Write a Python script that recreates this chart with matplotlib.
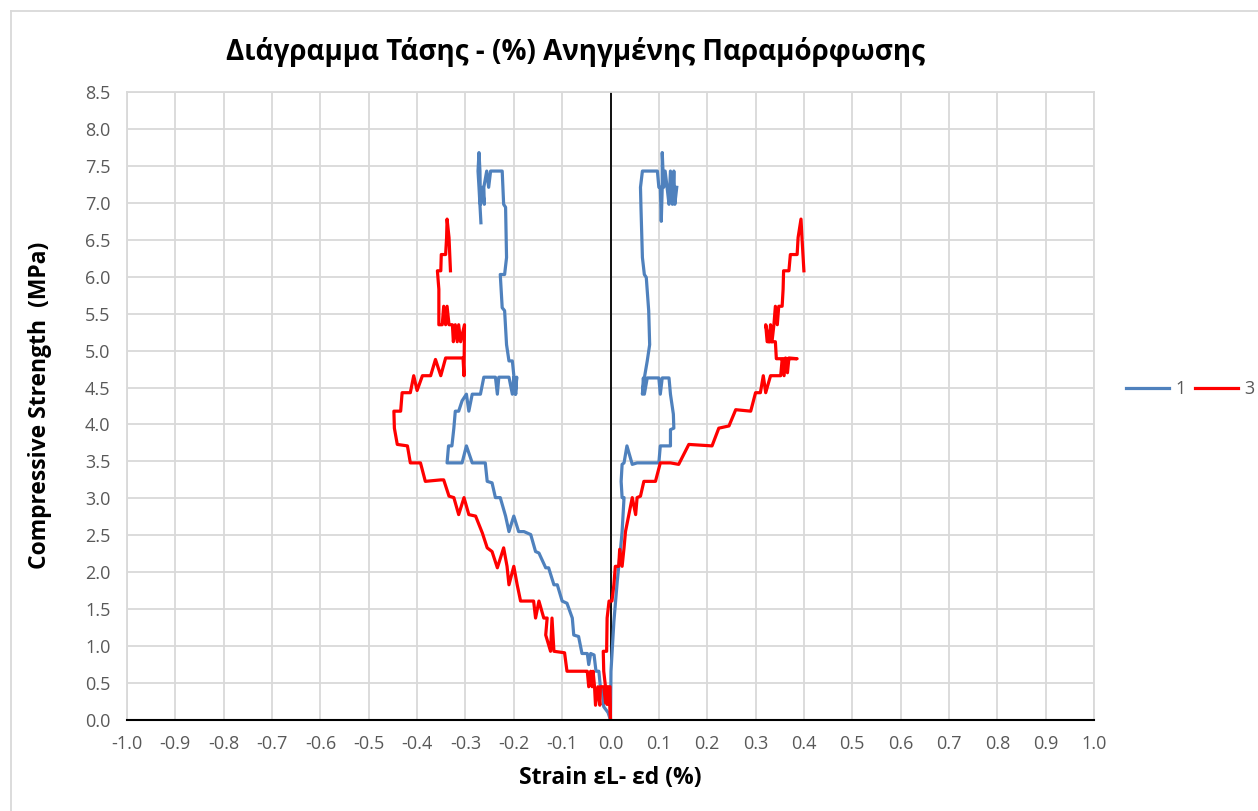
import numpy as np
import matplotlib
matplotlib.use("Agg")
import matplotlib.pyplot as plt
from matplotlib.lines import Line2D

plt.rcParams['font.family'] = ['Open Sans', 'DejaVu Sans']

# ----Specimen 1, lateral (left) and axial (right) strain----
x1_left = [0, -0.005, -0.014, -0.017, -0.021, -0.024, -0.030, -0.034, -0.041, -0.045, -0.048, -0.059,
           -0.066, -0.076, -0.079, -0.090, -0.100, -0.110, -0.117, -0.128, -0.134, -0.148, -0.155, -0.165,
           -0.179, -0.190, -0.200, -0.210, -0.217, -0.228, -0.238, -0.245, -0.255, -0.259, -0.286, -0.298,
           -0.307, -0.338, -0.335, -0.328, -0.324, -0.321, -0.314, -0.307, -0.298, -0.293, -0.286, -0.269,
           -0.262, -0.238, -0.234, -0.231, -0.210, -0.203, -0.200, -0.197, -0.194, -0.196, -0.203, -0.210,
           -0.215, -0.219, -0.224, -0.228, -0.219, -0.215, -0.217, -0.221, -0.224, -0.248, -0.252, -0.256,
           -0.262, -0.261, -0.265, -0.269, -0.270, -0.272, -0.274, -0.272, -0.268]
y1_left = [0, 0.10, 0.18, 0.43, 0.45, 0.66, 0.66, 0.88, 0.90, 0.75, 0.90, 0.90,
           1.13, 1.15, 1.38, 1.58, 1.61, 1.83, 1.83, 2.06, 2.06, 2.26, 2.28, 2.51,
           2.55, 2.55, 2.76, 2.55, 2.76, 3.01, 3.01, 3.21, 3.23, 3.48, 3.48, 3.71,
           3.48, 3.48, 3.71, 3.71, 3.95, 4.18, 4.18, 4.32, 4.41, 4.18, 4.41, 4.41,
           4.64, 4.64, 4.41, 4.64, 4.64, 4.41, 4.64, 4.41, 4.64, 4.41, 4.86, 4.86,
           5.08, 5.54, 5.58, 6.03, 6.03, 6.26, 6.94, 6.98, 7.43, 7.43, 7.21, 7.43,
           7.21, 6.98, 7.21, 6.98, 7.43, 7.68, 7.43, 7.21, 6.73]

x1_right = [0, 0.001, 0.007, 0.014, 0.021, 0.024, 0.028, 0.024, 0.022, 0.024, 0.028, 0.034,
            0.045, 0.055, 0.100, 0.103, 0.124, 0.124, 0.131, 0.130, 0.124, 0.121, 0.107, 0.103,
            0.100, 0.076, 0.070, 0.068, 0.066, 0.070, 0.076, 0.081, 0.079, 0.074, 0.070, 0.066,
            0.063, 0.062, 0.066, 0.097, 0.100, 0.103, 0.105, 0.107, 0.107, 0.110, 0.113, 0.117,
            0.121, 0.124, 0.128, 0.131, 0.133, 0.137]
y1_right = [0, 0.66, 1.33, 1.88, 2.33, 2.55, 3.01, 3.01, 3.23, 3.46, 3.48, 3.71,
            3.46, 3.48, 3.48, 3.71, 3.71, 3.93, 3.95, 4.14, 4.41, 4.63, 4.63, 4.41,
            4.63, 4.63, 4.41, 4.63, 4.41, 4.63, 4.86, 5.08, 5.54, 5.99, 6.03, 6.26,
            6.94, 7.21, 7.43, 7.43, 7.21, 7.21, 6.75, 7.21, 7.68, 7.21, 7.43, 7.21,
            6.98, 7.43, 6.98, 7.43, 6.98, 7.21]

# ----Specimen 3----
x3_left = [0, -0.001, -0.007, -0.010, -0.014, -0.021, -0.022, -0.026, -0.031, -0.033, -0.036, -0.038,
           -0.041, -0.045, -0.048, -0.052, -0.090, -0.095, -0.117, -0.121, -0.124, -0.134, -0.131, -0.138,
           -0.148, -0.155, -0.159, -0.186, -0.193, -0.200, -0.210, -0.214, -0.221, -0.234, -0.245, -0.255,
           -0.265, -0.279, -0.293, -0.303, -0.314, -0.324, -0.334, -0.345, -0.351, -0.383, -0.393, -0.414,
           -0.420, -0.441, -0.447, -0.448, -0.434, -0.431, -0.414, -0.407, -0.400, -0.389, -0.372, -0.362,
           -0.351, -0.341, -0.305, -0.303, -0.302, -0.310, -0.314, -0.317, -0.321, -0.325, -0.327, -0.334,
           -0.338, -0.341, -0.345, -0.348, -0.355, -0.355, -0.358, -0.351, -0.350, -0.341, -0.339, -0.338,
           -0.334, -0.331]
y3_left = [0, 0.45, 0.45, 0.23, 0.45, 0.45, 0.20, 0.45, 0.20, 0.45, 0.66, 0.45,
           0.66, 0.45, 0.66, 0.66, 0.66, 0.91, 0.93, 1.38, 0.93, 1.15, 1.38, 1.38,
           1.61, 1.38, 1.61, 1.61, 1.83, 2.08, 1.83, 2.08, 2.33, 2.06, 2.28, 2.33,
           2.53, 2.76, 2.78, 3.01, 2.78, 3.01, 3.03, 3.25, 3.25, 3.23, 3.48, 3.48,
           3.71, 3.73, 3.95, 4.18, 4.18, 4.43, 4.43, 4.66, 4.46, 4.66, 4.66, 4.88,
           4.66, 4.90, 4.90, 4.66, 5.35, 5.12, 5.35, 5.12, 5.35, 5.12, 5.35, 5.35,
           5.60, 5.35, 5.60, 5.35, 5.35, 5.83, 6.08, 6.08, 6.30, 6.30, 6.53, 6.78,
           6.53, 6.08]

x3_right = [0, -0.003, -0.007, -0.010, -0.014, -0.015, -0.008, -0.007, -0.003, 0.003, 0.007, 0.010,
            0.017, 0.019, 0.024, 0.028, 0.031, 0.038, 0.045, 0.052, 0.055, 0.062, 0.069, 0.093,
            0.103, 0.124, 0.141, 0.162, 0.210, 0.224, 0.245, 0.259, 0.290, 0.300, 0.310, 0.316,
            0.321, 0.331, 0.352, 0.355, 0.359, 0.362, 0.366, 0.369, 0.386, 0.343, 0.341, 0.324,
            0.321, 0.328, 0.331, 0.334, 0.338, 0.341, 0.345, 0.348, 0.355, 0.357, 0.358, 0.369,
            0.372, 0.386, 0.388, 0.394, 0.396, 0.400]
y3_right = [0, 0.43, 0.21, 0.43, 0.66, 0.93, 0.93, 1.38, 1.61, 1.61, 1.83, 2.08,
            2.08, 2.31, 2.08, 2.33, 2.55, 2.78, 3.01, 2.78, 3.01, 3.03, 3.23, 3.23,
            3.48, 3.48, 3.46, 3.73, 3.71, 3.95, 3.98, 4.20, 4.18, 4.43, 4.43, 4.66,
            4.43, 4.66, 4.66, 4.88, 4.66, 4.90, 4.70, 4.90, 4.89, 4.89, 5.12, 5.12,
            5.35, 5.12, 5.35, 5.12, 5.35, 5.60, 5.35, 5.60, 5.60, 5.83, 6.08, 6.08,
            6.30, 6.30, 6.53, 6.78, 6.53, 6.08]

x_ticks = np.round(np.arange(-1.0, 1.01, 0.1), 1) + 0.0
y_ticks = np.round(np.arange(0, 8.51, 0.5), 1)

blue = "#4f81bd"
red = "#ff0000"
grid_col = "#d9d9d9"
tick_col = "#595959"


def fmt(v):
    # avoid "-0.0"
    return f"{abs(v):.1f}" if abs(v) < 1e-9 else f"{v:.1f}"


W, H = 1258, 811
fig = plt.figure(figsize=(W / 100, H / 100), dpi=100)
ax = fig.add_axes([127 / W, 1 - 720 / H, (1094 - 127) / W, (720 - 92) / H])

lw = 2.3
ax.plot(x1_left, y1_left, color=blue, lw=lw, solid_joinstyle='round', label="1", zorder=3)
ax.plot(x1_right, y1_right, color=blue, lw=lw, solid_joinstyle='round', zorder=3)
ax.plot(x3_left, y3_left, color=red, lw=lw, solid_joinstyle='round', label="3", zorder=4)
ax.plot(x3_right, y3_right, color=red, lw=lw, solid_joinstyle='round', zorder=4)

ax.axvline(0, color="black", lw=1.3, zorder=2)

ax.set_xlim(-1.0, 1.0)
ax.set_ylim(0, 8.5)
ax.set_xticks(x_ticks)
ax.set_xticklabels([fmt(v) for v in x_ticks])
ax.set_yticks(y_ticks)
ax.set_yticklabels([fmt(v) for v in y_ticks])
ax.tick_params(length=0, labelsize=13, labelcolor=tick_col)
ax.tick_params(axis='x', pad=11)
ax.tick_params(axis='y', pad=12)
ax.grid(True, color=grid_col, lw=1.3, zorder=0)
ax.set_axisbelow(True)
for s in ["left", "right", "top"]:
    ax.spines[s].set_color(grid_col)
    ax.spines[s].set_linewidth(1.3)
ax.spines["bottom"].set_color("black")
ax.spines["bottom"].set_linewidth(1.5)
ax.spines["bottom"].set_zorder(5)

fig.text(575 / W, 1 - 52 / H, "Διάγραμμα Τάσης - (%) Ανηγμένης Παραμόρφωσης",
         ha="center", va="center", fontsize=20, fontweight="bold")
fig.text(610 / W, 1 - 778 / H, "Strain εL- εd (%)", ha="center", va="center",
         fontsize=16.5, fontweight="bold")
fig.text(40 / W, 1 - 405 / H, "Compressive Strength  (MPa)", ha="center", va="center",
         rotation=90, fontsize=16.5, fontweight="bold")

leg = ax.legend(loc="center left", bbox_to_anchor=(1126 / W, 1 - 389 / H), bbox_transform=fig.transFigure,
                ncol=2, frameon=False, fontsize=13, handlelength=2.4, handletextpad=0.35,
                columnspacing=0.5, borderpad=0, borderaxespad=0)
for t in leg.get_texts():
    t.set_color(tick_col)

# chart frame (left and top edge only visible)
fig.add_artist(Line2D([11 / W, 11 / W], [0, 1 - 11 / H], color=grid_col, lw=1.3))
fig.add_artist(Line2D([11 / W, 1], [1 - 11 / H, 1 - 11 / H], color=grid_col, lw=1.3))

plt.savefig("out.png", dpi=100)
